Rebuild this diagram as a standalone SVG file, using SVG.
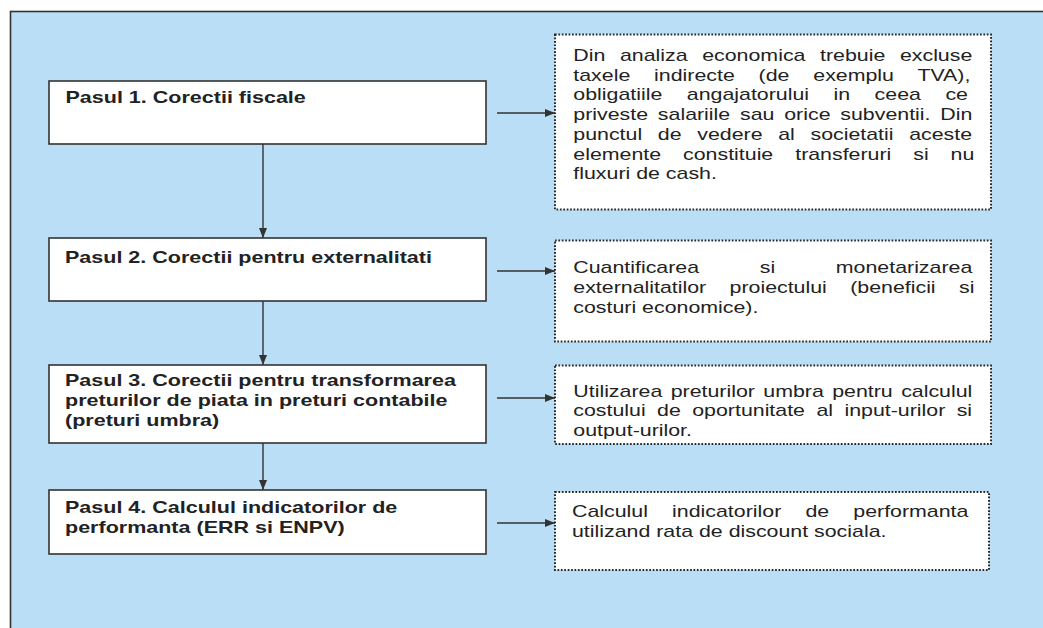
<svg xmlns="http://www.w3.org/2000/svg" width="1043" height="628" viewBox="0 0 1043 628">
<defs>
<style>
.step{fill:#ffffff;stroke:#333333;stroke-width:1.6}
.note{fill:#ffffff;stroke:#2a2a2a;stroke-width:2;stroke-dasharray:1.7 1.7}
.t{font-family:"Liberation Sans",Arial,sans-serif;font-size:16px;fill:#222222}
.b{font-weight:bold}
.conn{stroke:#333333;stroke-width:1.4;fill:none}
</style>
<marker id="ah" viewBox="0 0 10 8" refX="10" refY="4" markerWidth="10" markerHeight="8" markerUnits="userSpaceOnUse" orient="auto">
<path d="M0,0 L10,4 L0,8 Z" fill="#333333"/>
</marker>
</defs>
<rect x="0" y="0" width="1043" height="628" fill="#ffffff"/>
<rect id="panel" x="10.5" y="11.5" width="1040" height="630" fill="#b9def5" stroke="#333333" stroke-width="1.6"/>

<g id="connectors">
<line class="conn" x1="263" y1="144" x2="263" y2="238" marker-end="url(#ah)"/>
<line class="conn" x1="263" y1="301" x2="263" y2="365" marker-end="url(#ah)"/>
<line class="conn" x1="263" y1="443" x2="263" y2="490" marker-end="url(#ah)"/>
<line class="conn" x1="497" y1="113" x2="555" y2="113" marker-end="url(#ah)"/>
<line class="conn" x1="497" y1="271" x2="555" y2="271" marker-end="url(#ah)"/>
<line class="conn" x1="497" y1="398" x2="555" y2="398" marker-end="url(#ah)"/>
<line class="conn" x1="497" y1="523" x2="555" y2="523" marker-end="url(#ah)"/>
</g>

<g id="step1">
<rect class="step" x="49" y="81" width="437" height="63"/>
<g transform="translate(65.5,103.3) scale(1.345,1)"><text class="t b" x="0" y="0">Pasul 1. Corectii fiscale</text></g>
</g>
<g id="step2">
<rect class="step" x="49" y="238" width="437" height="63"/>
<g transform="translate(65,263.3) scale(1.345,1)"><text class="t b" x="0" y="0">Pasul 2. Corectii pentru externalitati</text></g>
</g>
<g id="step3">
<rect class="step" x="49" y="365" width="437" height="78"/>
<g transform="translate(65,386) scale(1.345,1)">
<text class="t b" x="0" y="0">Pasul 3. Corectii pentru transformarea</text>
<text class="t b" x="0" y="20">preturilor de piata in preturi contabile</text>
<text class="t b" x="0" y="40">(preturi umbra)</text>
</g>
</g>
<g id="step4">
<rect class="step" x="49" y="490" width="437" height="64"/>
<g transform="translate(65,513.3) scale(1.345,1)">
<text class="t b" x="0" y="0">Pasul 4. Calculul indicatorilor de</text>
<text class="t b" x="0" y="20">performanta (ERR si ENPV)</text>
</g>
</g>

<g id="note1">
<rect class="note" x="555" y="34.5" width="436" height="175"/>
<g transform="translate(573.3,61) scale(1.335,1)">
<text class="t" x="0" y="0" word-spacing="6.5">Din analiza economica trebuie excluse</text>
<text class="t" x="0" y="19.75" word-spacing="13.4">taxele indirecte (de exemplu TVA),</text>
<text class="t" x="0" y="39.5" word-spacing="13.9">obligatiile angajatorului in ceea ce</text>
<text class="t" x="0" y="59.25" word-spacing="2.9">priveste salariile sau orice subventii. Din</text>
<text class="t" x="0" y="79" word-spacing="7.3">punctul de vedere al societatii aceste</text>
<text class="t" x="0" y="98.75" word-spacing="12">elemente constituie transferuri si nu</text>
<text class="t" x="0" y="118.5">fluxuri de cash.</text>
</g>
</g>
<g id="note2">
<rect class="note" x="555" y="240.5" width="436" height="101"/>
<g transform="translate(573.3,273.3) scale(1.335,1)">
<text class="t" x="0" y="0" word-spacing="41">Cuantificarea si monetarizarea</text>
<text class="t" x="0" y="19.7" word-spacing="13.05">externalitatilor proiectului (beneficii si</text>
<text class="t" x="0" y="39.4">costuri economice).</text>
</g>
</g>
<g id="note3">
<rect class="note" x="555" y="365.5" width="436" height="78.5"/>
<g transform="translate(573.3,396.7) scale(1.335,1)">
<text class="t" x="0" y="0" word-spacing="1.85">Utilizarea preturilor umbra pentru calculul</text>
<text class="t" x="0" y="19.7" word-spacing="4.1">costului de oportunitate al input-urilor si</text>
<text class="t" x="0" y="39.4">output-urilor.</text>
</g>
</g>
<g id="note4">
<rect class="note" x="555" y="492" width="434" height="78"/>
<g transform="translate(572,516.7) scale(1.335,1)">
<text class="t" x="0" y="0" word-spacing="13.65">Calculul indicatorilor de performanta</text>
<text class="t" x="0" y="20">utilizand rata de discount sociala.</text>
</g>
</g>
</svg>
